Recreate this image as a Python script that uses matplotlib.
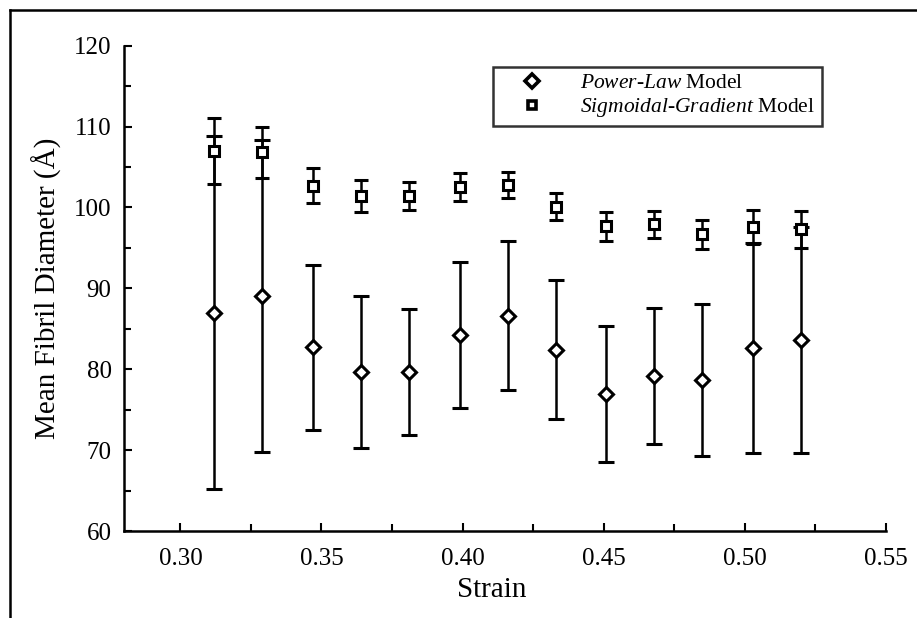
import matplotlib
matplotlib.use("Agg")
import matplotlib.pyplot as plt
from matplotlib.lines import Line2D
from matplotlib.ticker import MultipleLocator, FormatStrFormatter

plt.rcParams['font.family'] = ['Liberation Serif', 'DejaVu Serif']
plt.rcParams['mathtext.fontset'] = 'custom'
plt.rcParams['mathtext.rm'] = 'Liberation Serif'
plt.rcParams['mathtext.it'] = 'Liberation Serif:italic'

strain = [0.312, 0.329, 0.347, 0.364, 0.381, 0.399, 0.416, 0.433, 0.451, 0.468, 0.485, 0.503, 0.520]
power_law = [87.0, 89.1, 82.7, 79.7, 79.7, 84.2, 86.6, 82.4, 76.9, 79.2, 78.7, 82.6, 83.6]
power_law_err = [21.8, 19.3, 10.2, 9.4, 7.8, 9.0, 9.2, 8.6, 8.4, 8.4, 9.4, 13.0, 14.0]
sigmoidal = [107.0, 106.8, 102.7, 101.4, 101.4, 102.5, 102.8, 100.1, 97.7, 97.9, 96.7, 97.6, 97.3]
sigmoidal_err = [4.1, 3.2, 2.2, 2.0, 1.7, 1.7, 1.6, 1.7, 1.8, 1.7, 1.8, 2.1, 2.3]
labels = [r'$\mathit{Power}$-$\mathit{Law}$ Model', r'$\mathit{Sigmoidal}$-$\mathit{Gradient}$ Model']

fig = plt.figure(figsize=(9.17, 6.18), dpi=100)
ax = fig.add_axes([124/917, 1-531/618, (885.7-124)/917, (531-45.7)/618])

ax.errorbar(strain, power_law, yerr=power_law_err, fmt='D', ms=7.5, mfc='white', mec='black',
            mew=2.2, color='black', elinewidth=1.8, capsize=5.8, capthick=1.8, zorder=3)
ax.errorbar(strain, sigmoidal, yerr=sigmoidal_err, fmt='s', ms=7, mfc='white', mec='black',
            mew=2.2, color='black', elinewidth=1.8, capsize=5.0, capthick=1.8, zorder=4)

ax.set_xlim(0.28, 0.55)
ax.set_ylim(60, 120)
ax.xaxis.set_major_locator(MultipleLocator(0.05))
ax.xaxis.set_minor_locator(MultipleLocator(0.025))
ax.xaxis.set_major_formatter(FormatStrFormatter('%.2f'))
ax.yaxis.set_major_locator(MultipleLocator(10))
ax.yaxis.set_minor_locator(MultipleLocator(5))

for s in ['top', 'right']:
    ax.spines[s].set_visible(False)
for s in ['left', 'bottom']:
    ax.spines[s].set_linewidth(1.8)

ax.tick_params(which='both', direction='in', width=1.5, labelsize=18)
ax.tick_params(which='major', length=6)
ax.tick_params(which='minor', length=5)
ax.tick_params(axis='x', pad=12)
ax.tick_params(axis='y', pad=9)

ax.set_xlabel('Strain', fontsize=21)
ax.xaxis.set_label_coords(0.483, -0.094)
ax.set_ylabel('Mean Fibril Diameter (Å)', fontsize=21)
ax.yaxis.set_label_coords(-0.082, 0.5)

handles = [Line2D([], [], ls='none', marker='D', ms=7.5, mfc='white', mec='black', mew=2.6),
           Line2D([], [], ls='none', marker='s', ms=6, mfc='white', mec='black', mew=2.6)]
leg = ax.legend(handles, labels, loc='upper left',
                bbox_to_anchor=((493-124)/(885.7-124), 1-(66.7-45.7)/(531-45.7)),
                fontsize=15.5, frameon=True, fancybox=False, edgecolor='black',
                handlelength=3.0, handletextpad=0.75, borderpad=0.3, labelspacing=0.15,
                borderaxespad=0)
leg.get_frame().set_linewidth(1.8)

# outer frame lines
fig.add_artist(Line2D([10/917, 10/917], [0, 1-10/618], transform=fig.transFigure, color='black', lw=1.8))
fig.add_artist(Line2D([10/917, 1], [1-10/618, 1-10/618], transform=fig.transFigure, color='black', lw=1.8))

fig.savefig('out.png', dpi=100)
